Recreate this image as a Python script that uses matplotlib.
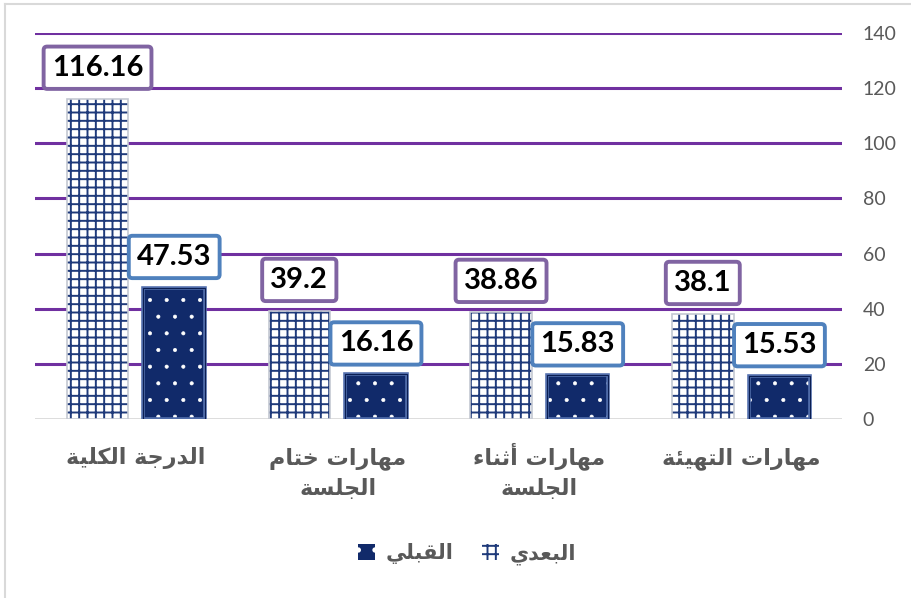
import numpy as np
import matplotlib
matplotlib.use("Agg")
import matplotlib.pyplot as plt
import matplotlib.transforms as mtransforms
from matplotlib.patches import Patch
from matplotlib.lines import Line2D

# ---------------- data ----------------
categories = ["مهارات التهيئة", "مهارات أثناء\nالجلسة", "مهارات ختام\nالجلسة", "الدرجة الكلية"]
series_names = ["البعدي", "القبلي"]
post_values = [38.1, 38.86, 39.2, 116.16]   # البعدي
pre_values = [15.53, 15.83, 16.16, 47.53]    # القبلي
y_ticks = [0, 20, 40, 60, 80, 100, 120, 140]

# ---------------- simple Arabic shaping (presentation forms, visual order) ----------------
# (isolated, final, initial, medial)
FORMS = {
    '\u0621': ('\uFE80', None, None, None),
    '\u0623': ('\uFE83', '\uFE84', None, None),
    '\u0626': ('\uFE89', '\uFE8A', '\uFE8B', '\uFE8C'),
    '\u0627': ('\uFE8D', '\uFE8E', None, None),
    '\u0628': ('\uFE8F', '\uFE90', '\uFE91', '\uFE92'),
    '\u0629': ('\uFE93', '\uFE94', None, None),
    '\u062A': ('\uFE95', '\uFE96', '\uFE97', '\uFE98'),
    '\u062B': ('\uFE99', '\uFE9A', '\uFE9B', '\uFE9C'),
    '\u062C': ('\uFE9D', '\uFE9E', '\uFE9F', '\uFEA0'),
    '\u062E': ('\uFEA5', '\uFEA6', '\uFEA7', '\uFEA8'),
    '\u062F': ('\uFEA9', '\uFEAA', None, None),
    '\u0631': ('\uFEAD', '\uFEAE', None, None),
    '\u0633': ('\uFEB1', '\uFEB2', '\uFEB3', '\uFEB4'),
    '\u0639': ('\uFEC9', '\uFECA', '\uFECB', '\uFECC'),
    '\u0642': ('\uFED5', '\uFED6', '\uFED7', '\uFED8'),
    '\u0643': ('\uFED9', '\uFEDA', '\uFEDB', '\uFEDC'),
    '\u0644': ('\uFEDD', '\uFEDE', '\uFEDF', '\uFEE0'),
    '\u0645': ('\uFEE1', '\uFEE2', '\uFEE3', '\uFEE4'),
    '\u0646': ('\uFEE5', '\uFEE6', '\uFEE7', '\uFEE8'),
    '\u0647': ('\uFEE9', '\uFEEA', '\uFEEB', '\uFEEC'),
    '\u064A': ('\uFEF1', '\uFEF2', '\uFEF3', '\uFEF4'),
}


def shape_line(s):
    out = []
    n = len(s)
    for i, ch in enumerate(s):
        if ch not in FORMS:
            out.append(ch)
            continue
        f = FORMS[ch]
        prev = s[i - 1] if i > 0 else None
        nxt = s[i + 1] if i + 1 < n else None
        join_prev = prev in FORMS and FORMS[prev][2] is not None and f[1] is not None
        join_next = f[2] is not None and nxt in FORMS and FORMS[nxt][1] is not None
        if join_prev and join_next:
            out.append(f[3])
        elif join_prev:
            out.append(f[1])
        elif join_next:
            out.append(f[2])
        else:
            out.append(f[0])
    return "".join(reversed(out))


def ar(s):
    return "\n".join(shape_line(line) for line in s.split("\n"))


def set_hlw(artists, lw):
    for a in artists:
        try:
            a.set_hatch_linewidth(lw)
        except AttributeError:
            pass


# ---------------- style ----------------
plt.rcParams['hatch.linewidth'] = 1.4
W, H = 912, 598
fig = plt.figure(figsize=(W / 100, H / 100), dpi=100)
ax = fig.add_axes([35 / W, 1 - 419 / H, (842 - 35) / W, (419 - 33) / H])

NAVY = "#112A6A"
GRID_NAVY = "#1F3A7A"
PURPLE_GRID = "#7030A0"
PURPLE_BOX = "#8064A2"
BLUE_BOX = "#4F81BD"
GRAY_TXT = "#595959"

x = np.arange(len(categories))
bw = 0.305
off = 0.19

# post bars (grid pattern)
ax.bar(x + off, post_values, bw, facecolor="white", edgecolor=GRID_NAVY, hatch="++", linewidth=0, zorder=3)
ax.bar(x + off, post_values, bw, fill=False, edgecolor="#C4C8D2", linewidth=1.2, zorder=4)
# pre bars (navy with dots) + bevel edges
pre_bars = ax.bar(x - off, pre_values, bw, facecolor=NAVY, edgecolor="white", hatch=".", linewidth=0, zorder=3)
set_hlw(pre_bars, 0.45)
ax.bar(x - off, pre_values, bw, fill=False, edgecolor="#5470AE", linewidth=2.6, zorder=4)
ax.bar(x - off, pre_values, bw, fill=False, edgecolor="#0B1E52", linewidth=0.8, zorder=5)

# data labels
for xi, v in zip(x, post_values):
    ax.annotate(f"{v:g}", (xi + off, v), xytext=(0, 31), textcoords="offset pixels",
                ha="center", va="center", fontsize=21, fontweight="bold", family="Lato",
                color="black", zorder=6,
                bbox=dict(boxstyle="round,pad=0.28,rounding_size=0.12", facecolor="white",
                          edgecolor=PURPLE_BOX, linewidth=2.8))
for xi, v in zip(x, pre_values):
    ax.annotate(f"{v:g}", (xi - off, v), xytext=(0, 31), textcoords="offset pixels",
                ha="center", va="center", fontsize=21, fontweight="bold", family="Lato",
                color="black", zorder=6,
                bbox=dict(boxstyle="round,pad=0.28,rounding_size=0.12", facecolor="white",
                          edgecolor=BLUE_BOX, linewidth=2.8))

ax.set_xlim(len(categories) - 0.5, -0.5)
ax.set_ylim(0, 140)
ax.set_yticks(y_ticks)
ax.yaxis.tick_right()
ax.tick_params(axis="y", length=0, pad=15, labelsize=14, labelcolor=GRAY_TXT)
for lab in ax.get_yticklabels():
    lab.set_family("Lato")

# category labels (each line at a fixed baseline)
ax.set_xticks(x)
ax.set_xticklabels([""] * len(categories))
ax.tick_params(axis="x", length=0)
trans = mtransforms.blended_transform_factory(ax.transData, fig.transFigure)
for xi, cat in zip(x, categories):
    for li, line in enumerate(cat.split("\n")):
        ax.text(xi, 1 - (464 + 31 * li) / H, shape_line(line), transform=trans,
                ha="center", va="baseline", family="DejaVu Sans", fontweight="bold",
                fontsize=16, color=GRAY_TXT, clip_on=False)

for s in ax.spines.values():
    s.set_visible(False)
for t in y_ticks[1:]:
    ax.axhline(t, color=PURPLE_GRID, linewidth=2.2, zorder=1)
ax.axhline(0, color="#D9D9D9", linewidth=2, zorder=2)

# legend
h_pre = Patch(facecolor=NAVY, edgecolor="white", hatch=".", linewidth=0)
h_post = Patch(facecolor="white", edgecolor=GRID_NAVY, hatch="++", linewidth=0)
set_hlw([h_pre], 0.45)
leg = fig.legend([h_pre, h_post], [ar(series_names[1]), ar(series_names[0])], ncol=2,
                 loc="center", bbox_to_anchor=(467 / W, 1 - 554 / H), frameon=False,
                 prop=dict(family="DejaVu Sans", weight="bold", size=15),
                 handlelength=0.8, handleheight=0.8, handletextpad=0.5, columnspacing=1.4)
for t in leg.get_texts():
    t.set_color(GRAY_TXT)

# chart area border
fig.add_artist(Line2D([5 / W, 5 / W], [0, 1 - 4 / H], color="#D9D9D9", linewidth=1.5))
fig.add_artist(Line2D([5 / W, 1], [1 - 4 / H, 1 - 4 / H], color="#D9D9D9", linewidth=1.5))

fig.savefig("out.png", dpi=100)
